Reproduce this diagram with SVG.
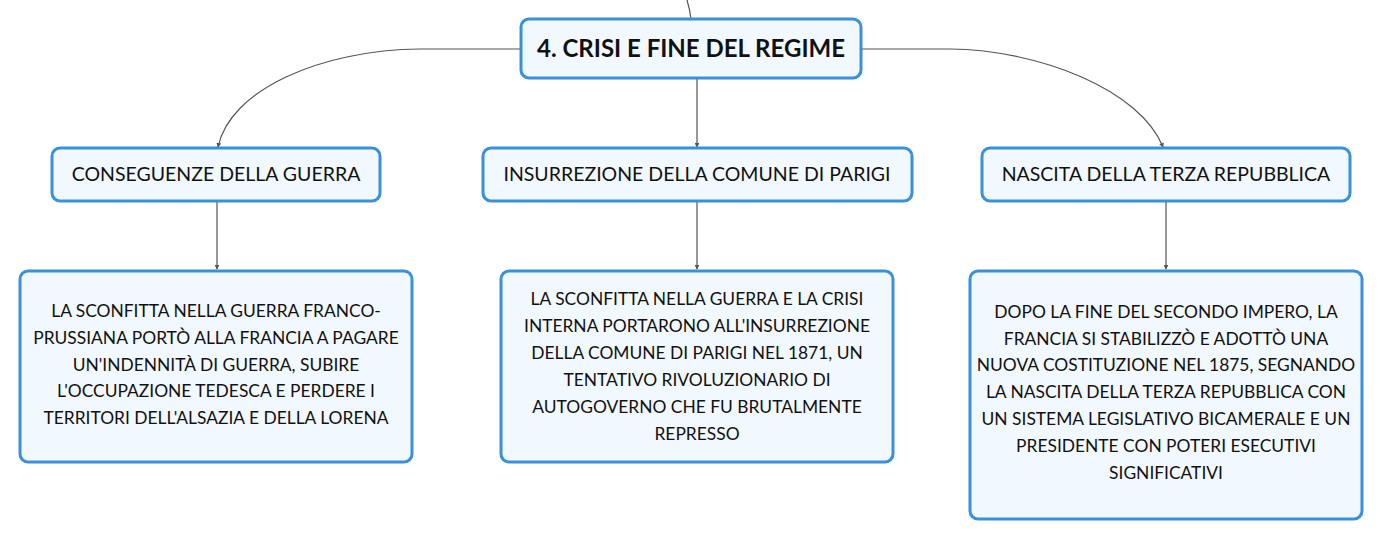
<svg xmlns="http://www.w3.org/2000/svg" width="1383" height="540" viewBox="0 0 1383 540">
<style>
.box{fill:#f1f8fe;stroke:#3b90dc;stroke-width:3}
.t{font-family:Lato,"Open Sans","Liberation Sans",sans-serif;fill:#111;text-anchor:middle}
.root{font-size:24px;font-weight:bold}
.l1{font-size:19.5px}
.l2{font-size:17.4px}
.c{fill:none;stroke:#555;stroke-width:1.2}
</style>
<defs>
<marker id="ah" viewBox="0 0 6 6" refX="5" refY="3" markerWidth="4" markerHeight="4" orient="auto"><path d="M0,0 L6,3 L0,6 z" fill="#555"/></marker>
</defs>
<rect width="1383" height="540" fill="#fff"/>
<g id="connectors">
<path class="c" d="M687,0 Q690,10 691,19"/>
<path class="c" d="M521,49 L420,49 C320,50 230,90 218,147" marker-end="url(#ah)"/>
<path class="c" d="M697,78 L697,147" marker-end="url(#ah)"/>
<path class="c" d="M861,49 L950,49 C1040,50 1140,90 1163,147" marker-end="url(#ah)"/>
<path class="c" d="M217,201 L217,269" marker-end="url(#ah)"/>
<path class="c" d="M697,201 L697,269" marker-end="url(#ah)"/>
<path class="c" d="M1166,201 L1166,269" marker-end="url(#ah)"/>
</g>
<g id="root">
<rect class="box" x="521" y="19" width="340" height="59" rx="8"/>
<text class="t root" x="691" y="57">4. CRISI E FINE DEL REGIME</text>
</g>
<g id="n1">
<rect class="box" x="52" y="148" width="328" height="53" rx="8"/>
<text class="t l1" x="216" y="181">CONSEGUENZE DELLA GUERRA</text>
</g>
<g id="n2">
<rect class="box" x="483" y="148" width="429" height="53" rx="8"/>
<text class="t l1" x="697" y="181">INSURREZIONE DELLA COMUNE DI PARIGI</text>
</g>
<g id="n3">
<rect class="box" x="982" y="148" width="368" height="53" rx="8"/>
<text class="t l1" x="1166" y="181">NASCITA DELLA TERZA REPUBBLICA</text>
</g>
<g id="n1a">
<rect class="box" x="20" y="271" width="392" height="191" rx="8"/>
<text class="t l2" x="216" y="317">LA SCONFITTA NELLA GUERRA FRANCO-</text>
<text class="t l2" x="216" y="344">PRUSSIANA PORTÒ ALLA FRANCIA A PAGARE</text>
<text class="t l2" x="216" y="371">UN'INDENNITÀ DI GUERRA, SUBIRE</text>
<text class="t l2" x="216" y="397">L'OCCUPAZIONE TEDESCA E PERDERE I</text>
<text class="t l2" x="216" y="424">TERRITORI DELL'ALSAZIA E DELLA LORENA</text>
</g>
<g id="n2a">
<rect class="box" x="501" y="271" width="392" height="191" rx="8"/>
<text class="t l2" x="697" y="305">LA SCONFITTA NELLA GUERRA E LA CRISI</text>
<text class="t l2" x="697" y="332">INTERNA PORTARONO ALL'INSURREZIONE</text>
<text class="t l2" x="697" y="359">DELLA COMUNE DI PARIGI NEL 1871, UN</text>
<text class="t l2" x="697" y="386">TENTATIVO RIVOLUZIONARIO DI</text>
<text class="t l2" x="697" y="413">AUTOGOVERNO CHE FU BRUTALMENTE</text>
<text class="t l2" x="697" y="440">REPRESSO</text>
</g>
<g id="n3a">
<rect class="box" x="970" y="271" width="392" height="248" rx="8"/>
<text class="t l2" x="1166" y="318">DOPO LA FINE DEL SECONDO IMPERO, LA</text>
<text class="t l2" x="1166" y="345">FRANCIA SI STABILIZZÒ E ADOTTÒ UNA</text>
<text class="t l2" x="1166" y="371">NUOVA COSTITUZIONE NEL 1875, SEGNANDO</text>
<text class="t l2" x="1166" y="398">LA NASCITA DELLA TERZA REPUBBLICA CON</text>
<text class="t l2" x="1166" y="425">UN SISTEMA LEGISLATIVO BICAMERALE E UN</text>
<text class="t l2" x="1166" y="452">PRESIDENTE CON POTERI ESECUTIVI</text>
<text class="t l2" x="1166" y="479">SIGNIFICATIVI</text>
</g>
</svg>
